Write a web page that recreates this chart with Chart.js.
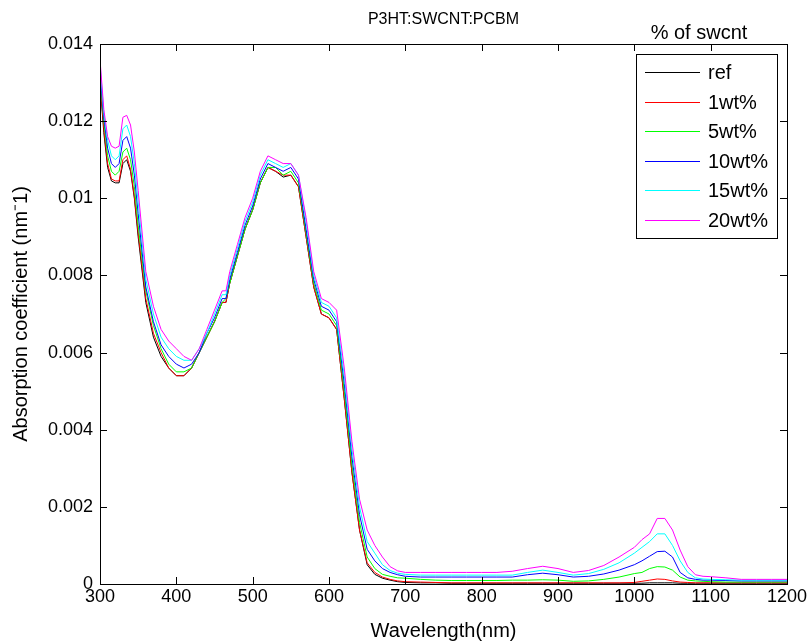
<!DOCTYPE html>
<html>
<head>
<meta charset="utf-8">
<script src="https://cdn.jsdelivr.net/npm/chart.js@4.4.1/dist/chart.umd.min.js"></script>
<style>
  body { margin: 0; background: #fff; }
  canvas { display: block; }
</style>
</head>
<body>
<canvas id="myChart" width="812" height="643"></canvas>
<script>
const wavelength = [300, 305, 310, 315, 320, 325, 330, 335, 340, 345, 350, 360, 370, 380, 390, 400, 410, 420, 430, 440,
    450, 460, 465, 470, 480, 490, 500, 510, 520, 530, 540, 550, 560, 570, 580, 590, 600, 610, 620, 630,
    640, 650, 660, 670, 680, 690, 700, 720, 740, 760, 780, 800, 820, 840, 860, 880, 900, 920, 940, 960,
    980, 1000, 1010, 1020, 1030, 1040, 1050, 1060, 1070, 1080, 1090, 1100, 1120, 1140, 1160, 1180, 1200];

const ref = [0.0130, 0.0117, 0.0108, 0.01045, 0.0104, 0.0104, 0.0109, 0.0110, 0.0107, 0.0100, 0.0090, 0.0073, 0.0064, 0.0059, 0.0056, 0.0054, 0.0054, 0.0056, 0.0060, 0.0064,
    0.0068, 0.0073, 0.0073, 0.0078, 0.0085, 0.0092, 0.0097, 0.0104, 0.0108, 0.0107, 0.01055, 0.0106, 0.0103, 0.0090, 0.0077, 0.0070, 0.0069, 0.0066, 0.0048, 0.0029,
    0.0014, 0.0005, 0.00025, 0.00015, 0.0001, 0.00006, 0.00004, 0.00003, 0.00003, 0.00002, 0.00002, 0.00002, 0.00002, 0.00002, 0.00002, 0.00002, 0.00002, 0.00002, 0.00002, 0.00002,
    0.00002, 0.00002, 0.00002, 0.00003, 0.00003, 0.00003, 0.00003, 0.00002, 0.00002, 0.00002, 0.00002, 0.00002, 0.00002, 0.00002, 0.00002, 0.00002, 0.00002];

const wt1 = [0.0131, 0.0118, 0.0109, 0.0105, 0.01045, 0.01045, 0.0110, 0.0111, 0.01075, 0.01005, 0.0091, 0.0074, 0.0065, 0.0060, 0.0056, 0.0054, 0.0054, 0.0056, 0.0060, 0.0064,
    0.0068, 0.0073, 0.0073, 0.0078, 0.0085, 0.0092, 0.0097, 0.0104, 0.0108, 0.0107, 0.0106, 0.0106, 0.0103, 0.0090, 0.0077, 0.0070, 0.0069, 0.0066, 0.0048, 0.0029,
    0.0014, 0.00055, 0.0003, 0.00018, 0.00012, 0.00008, 0.00006, 0.00005, 0.00004, 0.00003, 0.00003, 0.00003, 0.00003, 0.00003, 0.00003, 0.00003, 0.00003, 0.00003, 0.00003, 0.00003,
    0.00003, 0.00004, 0.00007, 0.0001, 0.00013, 0.00012, 0.00008, 0.00005, 0.00004, 0.00003, 0.00003, 0.00003, 0.00003, 0.00003, 0.00003, 0.00003, 0.00003];

const wt5 = [0.0132, 0.0120, 0.0111, 0.0107, 0.0106, 0.0107, 0.0112, 0.0113, 0.0110, 0.0103, 0.0093, 0.0076, 0.0067, 0.0061, 0.0057, 0.0055, 0.0055, 0.0056, 0.0060, 0.0064,
    0.0068, 0.0073, 0.0074, 0.0078, 0.0085, 0.0092, 0.0097, 0.0104, 0.0108, 0.0108, 0.0106, 0.0107, 0.0104, 0.0091, 0.0078, 0.0071, 0.0070, 0.0067, 0.0050, 0.0031,
    0.0016, 0.0007, 0.0004, 0.00025, 0.0002, 0.00016, 0.00015, 0.00012, 0.0001, 0.00009, 0.00009, 0.00009, 0.00009, 0.0001, 0.0001, 0.00011, 0.0001, 0.00007, 0.00008, 0.00012,
    0.00018, 0.00027, 0.0003, 0.0004, 0.00045, 0.00044, 0.00036, 0.00018, 0.0001, 0.00008, 0.00007, 0.00006, 0.00005, 0.00005, 0.00005, 0.00005, 0.00005];

const wt10 = [0.0133, 0.0121, 0.0113, 0.0109, 0.0108, 0.0109, 0.0115, 0.0116, 0.0113, 0.0106, 0.0096, 0.0077, 0.0068, 0.0062, 0.0059, 0.0057, 0.0056, 0.0057, 0.0060, 0.0065,
    0.0069, 0.0074, 0.0074, 0.0079, 0.0086, 0.0093, 0.0098, 0.0105, 0.0109, 0.0108, 0.0107, 0.0108, 0.0105, 0.0092, 0.0079, 0.0072, 0.0071, 0.0068, 0.0052, 0.0033,
    0.0018, 0.0009, 0.0006, 0.0004, 0.0003, 0.00024, 0.0002, 0.00018, 0.00018, 0.00018, 0.00018, 0.00018, 0.00018, 0.00018, 0.00024, 0.00028, 0.00024, 0.00018, 0.0002, 0.00026,
    0.00036, 0.0005, 0.0006, 0.00072, 0.00084, 0.00085, 0.0007, 0.0003, 0.00016, 0.00012, 0.0001, 0.0001, 0.00009, 0.00008, 0.00008, 0.00008, 0.00008];

const wt15 = [0.0135, 0.0122, 0.0115, 0.0111, 0.0110, 0.0111, 0.0118, 0.0119, 0.0116, 0.0109, 0.0099, 0.0079, 0.0070, 0.0064, 0.0061, 0.0059, 0.0058, 0.0058, 0.0061, 0.0065,
    0.0070, 0.0075, 0.0075, 0.0080, 0.0087, 0.0094, 0.0099, 0.0106, 0.0110, 0.0109, 0.0108, 0.0109, 0.0106, 0.0094, 0.0080, 0.0073, 0.0072, 0.0069, 0.0054, 0.0035,
    0.0020, 0.0011, 0.0008, 0.0005, 0.00035, 0.00028, 0.00025, 0.00023, 0.00023, 0.00023, 0.00023, 0.00023, 0.00023, 0.00023, 0.0003, 0.00036, 0.0003, 0.00023, 0.00027, 0.00038,
    0.00055, 0.0008, 0.00095, 0.0011, 0.0013, 0.0013, 0.001, 0.0006, 0.0003, 0.00016, 0.00013, 0.00012, 0.00011, 0.0001, 0.0001, 0.0001, 0.0001];

const wt20 = [0.0136, 0.0123, 0.0116, 0.01135, 0.0113, 0.01135, 0.0121, 0.01215, 0.0119, 0.0112, 0.0102, 0.0081, 0.0072, 0.0066, 0.0063, 0.0061, 0.0059, 0.0058, 0.0061, 0.0066,
    0.0071, 0.0076, 0.0076, 0.0081, 0.0088, 0.0095, 0.0100, 0.0107, 0.0111, 0.0110, 0.0109, 0.0109, 0.0106, 0.0095, 0.0081, 0.0074, 0.0073, 0.0071, 0.0056, 0.0037,
    0.0022, 0.0014, 0.0010, 0.0007, 0.00045, 0.00034, 0.0003, 0.0003, 0.0003, 0.0003, 0.0003, 0.0003, 0.0003, 0.00033, 0.0004, 0.00046, 0.0004, 0.0003, 0.00035, 0.00048,
    0.0007, 0.00095, 0.00115, 0.0013, 0.0017, 0.0017, 0.0014, 0.00088, 0.00045, 0.00024, 0.0002, 0.00019, 0.00016, 0.00012, 0.00012, 0.00012, 0.00012];

const seriesNames = ['ref', '1wt%', '5wt%', '10wt%', '15wt%', '20wt%'];
const seriesColors = ['#000000', '#ff0000', '#00ff00', '#0000ff', '#00ffff', '#ff00ff'];
const seriesValues = [ref, wt1, wt5, wt10, wt15, wt20];

const xTicks = [300, 400, 500, 600, 700, 800, 900, 1000, 1100, 1200];
const yTicks = [0, 0.002, 0.004, 0.006, 0.008, 0.01, 0.012, 0.014];
const yTickLabels = ['0', '0.002', '0.004', '0.006', '0.008', '0.01', '0.012', '0.014'];

const FONT = '"Liberation Sans", Arial, sans-serif';

// box, inward ticks, title and legend like the matlab figure
const matlabFrame = {
    id: 'matlabFrame',
    afterDraw(chart) {
        const ctx = chart.ctx;
        const a = chart.chartArea;
        const xs = chart.scales.x;
        const ys = chart.scales.y;
        const tl = 7;
        ctx.save();
        ctx.strokeStyle = '#000';
        ctx.lineWidth = 1;
        ctx.beginPath();
        xTicks.forEach(v => {
            const px = Math.round(xs.getPixelForValue(v)) + 0.5;
            ctx.moveTo(px, a.bottom); ctx.lineTo(px, a.bottom - tl);
            ctx.moveTo(px, a.top); ctx.lineTo(px, a.top + tl);
        });
        yTicks.forEach(v => {
            const py = Math.round(ys.getPixelForValue(v)) + 0.5;
            ctx.moveTo(a.left, py); ctx.lineTo(a.left + tl, py);
            ctx.moveTo(a.right, py); ctx.lineTo(a.right - tl, py);
        });
        ctx.stroke();
        ctx.strokeRect(Math.round(a.left) + 0.5, Math.round(a.top) + 0.5,
            Math.round(a.right - a.left), Math.round(a.bottom - a.top));

        // title
        ctx.fillStyle = '#000';
        ctx.font = '16px ' + FONT;
        ctx.textAlign = 'center';
        ctx.textBaseline = 'middle';
        ctx.fillText('P3HT:SWCNT:PCBM', (a.left + a.right) / 2, 20);

        // legend
        const lx = 636, ly = 54, lw = 141, lh = 184;
        ctx.font = '20px ' + FONT;
        ctx.fillText('% of swcnt', 699, 33);
        ctx.fillStyle = '#fff';
        ctx.fillRect(lx, ly, lw, lh);
        ctx.strokeStyle = '#000';
        ctx.strokeRect(lx + 0.5, ly + 0.5, lw, lh);
        ctx.textAlign = 'left';
        seriesNames.forEach((name, i) => {
            const ry = Math.round(ly + 18 + i * 29.5) + 0.5;
            ctx.strokeStyle = seriesColors[i];
            ctx.beginPath();
            ctx.moveTo(lx + 9, ry);
            ctx.lineTo(lx + 64, ry);
            ctx.stroke();
            ctx.fillStyle = '#000';
            ctx.fillText(name, lx + 72, ry + 1);
        });
        ctx.restore();
    }
};

const ctx = document.getElementById('myChart').getContext('2d');

new Chart(ctx, {
    type: 'line',
    data: {
        datasets: seriesValues.map((vals, i) => ({
            label: seriesNames[i],
            data: wavelength.map((w, j) => ({ x: w, y: vals[j] })),
            borderColor: seriesColors[i],
            backgroundColor: seriesColors[i],
            borderWidth: 1,
            pointRadius: 0,
            tension: 0,
            order: seriesNames.length - 1 - i
        }))
    },
    options: {
        responsive: false,
        animation: false,
        layout: { padding: { top: 44, right: 25, left: 0, bottom: 0 } },
        plugins: {
            legend: { display: false },
            tooltip: { enabled: false }
        },
        scales: {
            x: {
                type: 'linear',
                min: 300,
                max: 1200,
                afterBuildTicks: s => { s.ticks = xTicks.map(v => ({ value: v })); },
                afterFit: s => { s.height = 59; },
                grid: { display: false, drawTicks: false },
                border: { display: false },
                ticks: {
                    color: '#000', font: { family: FONT, size: 18 }, padding: 2, maxRotation: 0, autoSkip: false,
                    callback: v => String(v)
                },
                title: { display: true, text: 'Wavelength(nm)', color: '#000', font: { family: FONT, size: 20 }, padding: { top: 0, bottom: 0 } }
            },
            y: {
                min: 0,
                max: 0.014,
                afterBuildTicks: s => { s.ticks = yTicks.map(v => ({ value: v })); },
                afterFit: s => { s.width = 100; },
                grid: { display: false, drawTicks: false },
                border: { display: false },
                ticks: {
                    color: '#000',
                    font: { family: FONT, size: 18 },
                    padding: 7,
                    autoSkip: false,
                    callback: (v, i) => yTickLabels[i]
                },
                title: { display: true, text: 'Absorption coefficient (nm\u207B1)', color: '#000', font: { family: FONT, size: 20 }, padding: { top: 9, bottom: 0 } }
            }
        }
    },
    plugins: [matlabFrame]
});
</script>
</body>
</html>
